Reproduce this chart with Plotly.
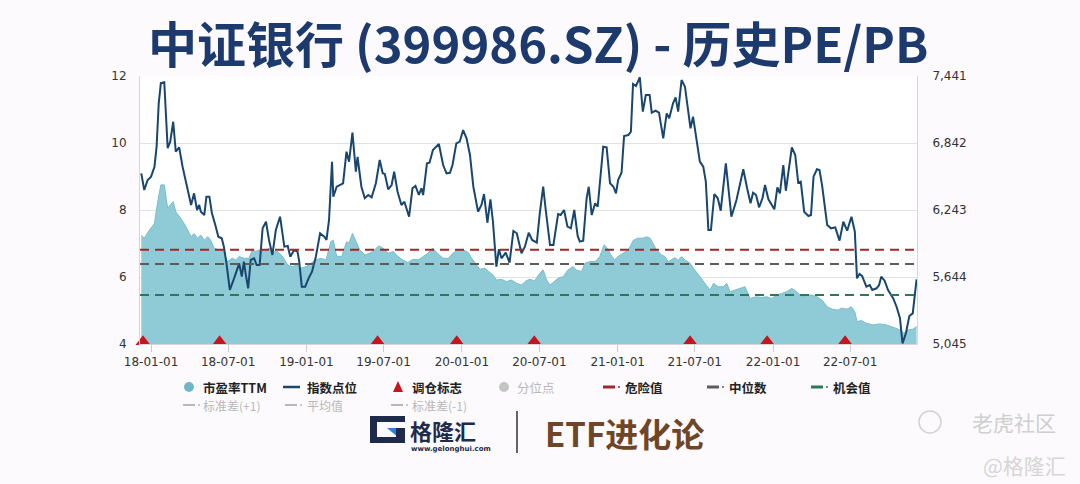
import plotly.graph_objects as go

# ---------------- data ----------------
pe_dates = [
    "2017-12-09", "2017-12-16", "2017-12-28", "2018-01-09", "2018-01-16", "2018-01-24", "2018-02-01", "2018-02-09",
    "2018-02-15", "2018-02-22", "2018-02-28", "2018-03-12", "2018-03-24", "2018-04-05", "2018-04-12", "2018-04-20",
    "2018-04-28", "2018-05-06", "2018-05-14", "2018-05-21", "2018-05-29", "2018-06-10", "2018-06-21", "2018-06-29",
    "2018-07-11", "2018-07-19", "2018-07-27", "2018-08-07", "2018-08-19", "2018-08-27", "2018-09-04", "2018-09-12",
    "2018-09-24", "2018-10-05", "2018-10-15", "2018-10-25", "2018-11-06", "2018-11-18", "2018-11-29", "2018-12-11",
    "2018-12-19", "2018-12-31", "2019-01-11", "2019-01-23", "2019-02-04", "2019-02-16", "2019-02-27", "2019-03-05",
    "2019-03-13", "2019-03-25", "2019-04-05", "2019-04-11", "2019-04-19", "2019-04-27", "2019-05-06", "2019-05-18",
    "2019-05-30", "2019-06-10", "2019-06-20", "2019-06-30", "2019-07-12", "2019-07-24", "2019-08-04", "2019-08-15",
    "2019-08-27", "2019-09-08", "2019-09-20", "2019-10-02", "2019-10-13", "2019-10-25", "2019-11-06", "2019-11-18",
    "2019-11-30", "2019-12-11", "2019-12-23", "2020-01-04", "2020-01-16", "2020-01-24", "2020-02-05", "2020-02-12",
    "2020-02-24", "2020-03-05", "2020-03-14", "2020-03-22", "2020-04-03", "2020-04-15", "2020-04-26", "2020-05-09",
    "2020-05-20", "2020-05-31", "2020-06-08", "2020-06-20", "2020-07-02", "2020-07-10", "2020-07-18", "2020-07-26",
    "2020-08-06", "2020-08-14", "2020-08-26", "2020-09-06", "2020-09-18", "2020-09-26", "2020-10-08", "2020-10-16",
    "2020-10-28", "2020-11-09", "2020-11-20", "2020-11-30", "2020-12-08", "2020-12-16", "2020-12-24", "2021-01-02",
    "2021-01-14", "2021-01-26", "2021-02-07", "2021-02-18", "2021-03-02", "2021-03-10", "2021-03-18", "2021-03-25",
    "2021-04-02", "2021-04-14", "2021-04-22", "2021-04-30", "2021-05-08", "2021-05-16", "2021-05-23", "2021-05-31",
    "2021-06-08", "2021-06-20", "2021-07-01", "2021-07-13", "2021-07-21", "2021-07-29", "2021-08-06", "2021-08-14",
    "2021-08-25", "2021-09-06", "2021-09-14", "2021-09-22", "2021-10-03", "2021-10-15", "2021-10-27", "2021-11-08",
    "2021-11-23", "2021-12-05", "2021-12-17", "2021-12-29", "2022-01-10", "2022-01-21", "2022-02-02", "2022-02-14",
    "2022-02-25", "2022-03-09", "2022-03-21", "2022-04-02", "2022-04-14", "2022-04-26", "2022-05-08", "2022-05-20",
    "2022-06-01", "2022-06-11", "2022-06-23", "2022-07-04", "2022-07-12", "2022-07-17", "2022-07-27", "2022-08-08",
    "2022-08-23", "2022-09-08", "2022-09-24", "2022-10-10", "2022-10-26", "2022-11-04", "2022-11-14", "2022-11-25",
    "2022-12-04",
]
pe_values = [
    7.25, 7.16, 7.40, 7.60, 8.20, 8.75, 8.75, 8.05,
    8.15, 8.25, 7.95, 7.75, 7.50, 7.20, 7.30, 7.16,
    7.25, 7.10, 7.20, 7.10, 6.86, 6.81, 6.76, 6.46,
    6.56, 6.51, 6.61, 6.56, 6.56, 6.81, 6.76, 6.81,
    6.76, 6.86, 6.76, 6.76, 6.61, 6.36, 6.31, 6.36,
    6.26, 6.31, 6.41, 6.51, 6.56, 6.51, 7.05, 7.10,
    6.61, 6.61, 7.05, 7.01, 7.30, 7.05, 6.81, 6.66,
    6.71, 6.81, 6.93, 6.86, 6.71, 6.76, 6.61, 6.51,
    6.43, 6.53, 6.51, 6.61, 6.71, 6.86, 6.69, 6.56,
    6.56, 6.71, 6.81, 6.81, 6.73, 6.56, 6.36, 6.23,
    6.26, 6.16, 6.06, 5.91, 5.93, 5.86, 5.91, 5.81,
    5.76, 5.89, 5.93, 5.89, 6.11, 6.21, 5.91, 5.76,
    5.86, 5.96, 6.01, 6.21, 6.31, 6.21, 6.16, 6.41,
    6.46, 6.46, 6.61, 6.96, 6.86, 6.66, 6.51, 6.61,
    6.71, 6.81, 7.10, 7.16, 7.16, 7.20, 7.16, 7.01,
    6.81, 6.66, 6.61, 6.46, 6.51, 6.58, 6.49, 6.61,
    6.51, 6.41, 6.21, 6.01, 5.86, 5.71, 5.61, 5.81,
    5.71, 5.71, 5.81, 5.56, 5.61, 5.66, 5.71, 5.36,
    5.41, 5.39, 5.41, 5.36, 5.46, 5.51, 5.56, 5.66,
    5.56, 5.41, 5.46, 5.46, 5.41, 5.31, 5.11, 5.04,
    5.01, 5.07, 5.04, 5.11, 4.96, 4.67, 4.70, 4.62,
    4.57, 4.60, 4.57, 4.50, 4.42, 4.32, 4.42, 4.44,
    4.52,
]

index_dates = [
    "2017-12-09", "2017-12-16", "2017-12-24", "2018-01-01", "2018-01-09", "2018-01-14", "2018-01-19", "2018-01-24",
    "2018-02-01", "2018-02-09", "2018-02-15", "2018-02-22", "2018-02-28", "2018-03-08", "2018-03-16", "2018-03-24",
    "2018-04-01", "2018-04-05", "2018-04-12", "2018-04-19", "2018-04-24", "2018-04-28", "2018-05-06", "2018-05-11",
    "2018-05-18", "2018-05-24", "2018-06-02", "2018-06-08", "2018-06-16", "2018-06-21", "2018-06-27", "2018-07-05",
    "2018-07-15", "2018-07-23", "2018-07-27", "2018-08-02", "2018-08-07", "2018-08-11", "2018-08-17", "2018-08-23",
    "2018-08-31", "2018-09-06", "2018-09-13", "2018-09-20", "2018-09-28", "2018-10-05", "2018-10-13", "2018-10-21",
    "2018-10-31", "2018-11-10", "2018-11-18", "2018-11-24", "2018-12-03", "2018-12-11", "2018-12-15", "2018-12-21",
    "2018-12-29", "2019-01-06", "2019-01-14", "2019-01-23", "2019-02-02", "2019-02-12", "2019-02-17", "2019-02-23",
    "2019-03-02", "2019-03-05", "2019-03-13", "2019-03-28", "2019-04-05", "2019-04-11", "2019-04-19", "2019-04-27",
    "2019-05-01", "2019-05-10", "2019-05-18", "2019-05-26", "2019-06-03", "2019-06-13", "2019-06-22", "2019-06-29",
    "2019-07-04", "2019-07-12", "2019-07-20", "2019-07-26", "2019-08-03", "2019-08-12", "2019-08-19", "2019-08-30",
    "2019-09-07", "2019-09-14", "2019-09-22", "2019-09-28", "2019-10-02", "2019-10-11", "2019-10-17", "2019-10-25",
    "2019-11-08", "2019-11-18", "2019-11-26", "2019-12-04", "2019-12-10", "2019-12-19", "2019-12-27", "2020-01-04",
    "2020-01-12", "2020-01-20", "2020-01-28", "2020-02-08", "2020-02-16", "2020-02-22", "2020-03-01", "2020-03-08",
    "2020-03-14", "2020-03-22", "2020-03-28", "2020-04-03", "2020-04-13", "2020-04-22", "2020-05-01", "2020-05-09",
    "2020-05-20", "2020-05-28", "2020-06-06", "2020-06-14", "2020-06-25", "2020-07-02", "2020-07-10", "2020-07-16",
    "2020-07-26", "2020-08-03", "2020-08-14", "2020-08-20", "2020-08-28", "2020-09-05", "2020-09-13", "2020-09-21",
    "2020-09-29", "2020-10-04", "2020-10-12", "2020-10-20", "2020-10-25", "2020-11-01", "2020-11-09", "2020-11-15",
    "2020-11-28", "2020-12-06", "2020-12-14", "2020-12-22", "2020-12-28", "2021-01-02", "2021-01-10", "2021-01-16",
    "2021-01-26", "2021-02-01", "2021-02-06", "2021-02-13", "2021-02-22", "2021-03-01", "2021-03-08", "2021-03-17",
    "2021-03-22", "2021-03-31", "2021-04-08", "2021-04-18", "2021-04-26", "2021-05-02", "2021-05-11", "2021-05-17",
    "2021-05-23", "2021-05-31", "2021-06-08", "2021-06-21", "2021-06-27", "2021-07-13", "2021-07-21", "2021-07-27",
    "2021-08-02", "2021-08-08", "2021-08-16", "2021-08-24", "2021-08-31", "2021-09-12", "2021-09-25", "2021-10-07",
    "2021-10-23", "2021-11-01", "2021-11-09", "2021-11-15", "2021-11-22", "2021-11-29", "2021-12-07", "2021-12-13",
    "2021-12-21", "2022-01-04", "2022-01-11", "2022-01-17", "2022-01-25", "2022-01-31", "2022-02-14", "2022-02-22",
    "2022-03-01", "2022-03-07", "2022-03-15", "2022-03-25", "2022-03-31", "2022-04-06", "2022-04-14", "2022-04-20",
    "2022-04-26", "2022-05-08", "2022-05-17", "2022-05-27", "2022-06-06", "2022-06-15", "2022-06-24", "2022-07-04",
    "2022-07-12", "2022-07-17", "2022-07-23", "2022-07-29", "2022-08-08", "2022-08-16", "2022-08-22", "2022-09-01",
    "2022-09-07", "2022-09-12", "2022-09-20", "2022-09-28", "2022-10-10", "2022-10-18", "2022-10-26", "2022-11-01",
    "2022-11-09", "2022-11-17", "2022-11-25", "2022-12-04",
]
index_values = [
    6571, 6422, 6511, 6541, 6630, 6809, 7197, 7378,
    7385, 6795, 6854, 7032, 6764, 6803, 6630, 6482,
    6362, 6288, 6392, 6243, 6288, 6228, 6198, 6362,
    6362, 6213, 6094, 6004, 5990, 5915, 5769, 5528,
    5632, 5736, 5766, 5647, 5781, 5677, 5543, 5796,
    5811, 5751, 5751, 6079, 6138, 5975, 5841, 6064,
    6183, 5915, 5921, 5825, 5885, 5870, 5781, 5557,
    5557, 5632, 5691, 5825, 6035, 6004, 5975, 6154,
    6675, 6362, 6451, 6482, 6764, 6675, 6934, 6585,
    6719, 6451, 6348, 6377, 6356, 6482, 6690, 6571,
    6565, 6428, 6466, 6585, 6407, 6288, 6317, 6183,
    6437, 6458, 6377, 6437, 6377, 6660, 6666, 6779,
    6833, 6645, 6571, 6576, 6645, 6839, 6854, 6958,
    6884, 6735, 6451, 6228, 6288, 6386, 6129, 6339,
    6138, 5736, 5892, 5811, 5861, 5772, 6055, 6035,
    5856, 5915, 6040, 5975, 5951, 6213, 6451, 6243,
    5930, 5930, 6207, 6198, 6243, 6094, 6079, 6243,
    6011, 5960, 5969, 6348, 6451, 6198, 6303, 6272,
    6809, 6803, 6482, 6451, 6392, 6511, 6576, 6905,
    6913, 6943, 7369, 7352, 7430, 7122, 7271, 7271,
    7113, 7131, 7113, 6884, 7107, 7063, 7197, 7250,
    7122, 7405, 7345, 6973, 7077, 6675, 6630, 6496,
    6064, 6064, 6386, 6348, 6237, 6660, 6183, 6332,
    6607, 6437, 6303, 6398, 6377, 6267, 6348, 6466,
    6339, 6249, 6446, 6392, 6645, 6415, 6803, 6735,
    6487, 6496, 6228, 6189, 6198, 6541, 6607, 6601,
    6466, 6109, 6079, 6088, 5969, 6138, 6058, 6183,
    6049, 5632, 5671, 5653, 5557, 5572, 5528, 5543,
    5572, 5647, 5611, 5528, 5454, 5378, 5275, 5050,
    5141, 5295, 5319, 5623,
]

rebalance_dates = ["2017-12-13", "2018-06-11", "2019-06-17", "2019-12-20",
                   "2020-06-19", "2021-06-20", "2021-12-18", "2022-06-19"]

danger_value = 6.81
median_value = 6.39
chance_value = 5.46

x_tick_dates = ["2018-01-01", "2018-07-01", "2019-01-01", "2019-07-01", "2020-01-01",
                "2020-07-01", "2021-01-01", "2021-07-01", "2022-01-01", "2022-07-01"]
left_ticks = [4, 6, 8, 10, 12]
right_ticks = [5045, 5644, 6243, 6842, 7441]

title_text = "中证银行 (399986.SZ) - 历史PE/PB"

# ---------------- styling ----------------
BG = "#fcfafc"
CJK = "Noto Sans CJK SC"
NAVY = "#19466f"
RED = "#a3262b"
GRAY = "#5c5c5c"
GREEN = "#2b7a57"
AREA = "#8fcad7"
AREA_LINE = "#79bccb"

W, H = 1080, 484
L, R, T, B = 140, 917, 76, 344


def px(x):
    return (x - L) / (R - L)


def py(y):
    return (B - y) / (B - T)


fig = go.Figure()

fig.add_trace(go.Scatter(
    x=pe_dates, y=pe_values, mode="lines", name="市盈率TTM",
    line=dict(color=AREA_LINE, width=1), fill="tozeroy", fillcolor=AREA,
    showlegend=False, hoverinfo="skip"))

fig.add_trace(go.Scatter(
    x=index_dates, y=index_values, mode="lines", name="指数点位", yaxis="y2",
    line=dict(color=NAVY, width=2), showlegend=False, hoverinfo="skip"))

fig.add_trace(go.Scatter(
    x=rebalance_dates, y=[4.07] * len(rebalance_dates), mode="markers", name="调仓标志",
    marker=dict(symbol="triangle-up", size=13, color="#c8141c"),
    cliponaxis=False, showlegend=False, hoverinfo="skip"))

fig.update_layout(
    width=W, height=H, autosize=False,
    margin=dict(l=L, r=W - R, t=T, b=H - B, pad=0),
    paper_bgcolor=BG, plot_bgcolor="#ffffff",
    showlegend=False,
    xaxis=dict(
        type="date", range=["2017-12-06", "2022-12-05"],
        tickvals=x_tick_dates, tickformat="%y-%m-%d",
        ticks="outside", ticklen=7, tickcolor="#cccccc",
        showgrid=False, showline=True, linecolor="#d6d6d6", zeroline=False,
        tickfont=dict(family="DejaVu Sans", size=12, color="#333333"),
    ),
    yaxis=dict(
        range=[4, 12], tickvals=left_ticks, showgrid=True, gridcolor="#e2e2e2",
        showline=True, linecolor="#d6d6d6", zeroline=False, ticks="",
        ticklabelstandoff=10,
        tickfont=dict(family="DejaVu Sans", size=12, color="#333333"),
    ),
    yaxis2=dict(
        range=[5045, 7441], tickvals=right_ticks,
        ticktext=[f"{v:,}" for v in right_ticks],
        overlaying="y", side="right", showgrid=False,
        showline=True, linecolor="#d6d6d6", zeroline=False, ticks="",
        ticklabelstandoff=12,
        tickfont=dict(family="DejaVu Sans", size=12, color="#333333"),
    ),
)

annotations = []
shapes = []

# reference lines (danger / median / opportunity)
for val, col in [(danger_value, RED), (median_value, GRAY), (chance_value, GREEN)]:
    shapes.append(dict(type="line", xref="paper", yref="y", x0=0, x1=1, y0=val, y1=val,
                       layer="above", line=dict(color=col, width=2, dash="9px,6px")))


def text(x, y, s, size=12, color="#222222", weight="normal", xanchor="left", family=CJK):
    annotations.append(dict(
        x=px(x), y=py(y), xref="paper", yref="paper", text=s, showarrow=False,
        xanchor=xanchor, yanchor="middle",
        font=dict(family=family, size=size, color=color, weight=weight)))


# title
text(538, 42, title_text, size=49, color="#1c3a6d", weight="bold", xanchor="center")

# legend
r1, r2 = 387, 405
shapes.append(dict(type="circle", xref="paper", yref="paper",
                   x0=px(184), x1=px(194), y0=py(r1 + 5), y1=py(r1 - 5),
                   fillcolor="#6fb6c8", line=dict(width=0)))
text(201, r1, "市盈率TTM", size=12.5, weight="bold")
shapes.append(dict(type="line", xref="paper", yref="paper",
                   x0=px(283), x1=px(300), y0=py(r1), y1=py(r1),
                   line=dict(color=NAVY, width=2.5)))
text(305, r1, "指数点位", size=12.5, weight="bold")
shapes.append(dict(type="path", xref="paper", yref="paper",
                   path=f"M {px(393)},{py(r1 + 5)} L {px(398)},{py(r1 - 6)} L {px(403)},{py(r1 + 5)} Z",
                   fillcolor="#c8141c", line=dict(width=0)))
text(410, r1, "调仓标志", size=12.5, weight="bold")
shapes.append(dict(type="circle", xref="paper", yref="paper",
                   x0=px(499), x1=px(509), y0=py(r1 + 5), y1=py(r1 - 5),
                   fillcolor="#c6c6c6", line=dict(width=0)))
text(515, r1, "分位点", size=12.5, color="#b9b9b9")


def dash_dot(x0, y, col, width=3):
    shapes.append(dict(type="line", xref="paper", yref="paper",
                       x0=px(x0), x1=px(x0 + 12), y0=py(y), y1=py(y),
                       line=dict(color=col, width=width)))
    shapes.append(dict(type="circle", xref="paper", yref="paper",
                       x0=px(x0 + 15), x1=px(x0 + 17), y0=py(y + 1), y1=py(y - 1),
                       fillcolor=col, line=dict(width=0)))


dash_dot(603, r1, RED)
text(623, r1, "危险值", size=12.5, weight="bold")
dash_dot(707, r1, GRAY)
text(727, r1, "中位数", size=12.5, weight="bold")
dash_dot(811, r1, GREEN)
text(831, r1, "机会值", size=12.5, weight="bold")

LG = "#b8b8b8"
dash_dot(183, r2, LG, width=2)
text(201, r2, "标准差(+1)", color=LG)
dash_dot(285, r2, LG, width=2)
text(305, r2, "平均值", color=LG)
dash_dot(391, r2, LG, width=2)
text(410, r2, "标准差(-1)", color=LG)

# logo block
LOGO_NAVY = "#1f2b4a"
shapes.append(dict(type="rect", xref="paper", yref="paper",
                   x0=px(370), x1=px(405), y0=py(443), y1=py(416),
                   fillcolor=LOGO_NAVY, line=dict(width=0)))
shapes.append(dict(type="rect", xref="paper", yref="paper",
                   x0=px(377), x1=px(405), y0=py(437), y1=py(422),
                   fillcolor=BG, line=dict(width=0)))
shapes.append(dict(type="path", xref="paper", yref="paper",
                   path=f"M {px(387)},{py(428)} L {px(405)},{py(428)} L {px(405)},{py(443)} Z",
                   fillcolor="#2f7fd8", line=dict(width=0)))
shapes.append(dict(type="rect", xref="paper", yref="paper",
                   x0=px(396), x1=px(405), y0=py(443), y1=py(428),
                   fillcolor=LOGO_NAVY, line=dict(width=0)))
text(408, 430, "格隆汇", size=22, color=LOGO_NAVY, weight="bold")
text(409, 449, "www.gelonghui.com", size=7, color=LOGO_NAVY, weight="bold", family="DejaVu Sans")
shapes.append(dict(type="line", xref="paper", yref="paper",
                   x0=px(517), x1=px(517), y0=py(411), y1=py(453),
                   line=dict(color="#333333", width=1.5)))
text(543, 433, "ETF进化论", size=33, color="#6e4527", weight="bold")

# watermarks
shapes.append(dict(type="circle", xref="paper", yref="paper",
                   x0=px(919), x1=px(941), y0=py(433), y1=py(411),
                   fillcolor="rgba(0,0,0,0)", line=dict(color="#d2d2d2", width=1.5)))
text(970, 422, "老虎社区", size=21, color="#cfcfcf")
text(981, 465, "@格隆汇", size=21, color="#d6d6d6")

fig.update_layout(annotations=annotations, shapes=shapes)

fig.write_html(
    "out.html",
    config={"displayModeBar": False},
    post_script="document.body.style.margin='0';document.body.style.background='" + BG + "';",
)
